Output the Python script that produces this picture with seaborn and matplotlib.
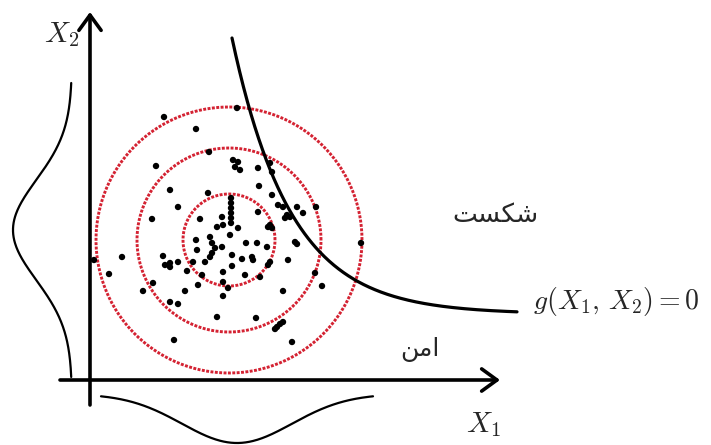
import numpy as np
import pandas as pd
import matplotlib
matplotlib.use("Agg")
import matplotlib.pyplot as plt
import seaborn as sns

# Sample realisations of (X1, X2) in the axis frame (origin at the axes' crossing)
x1_samples = [74, 147, 106, 119, 66, 143, 148, 145, 150, 168, 180, 182, 80, 118, 169, 182,
              88, 188, 193, 207, 213, 226, 62, 110, 141, 141, 141, 141, 141, 141, 132, 133,
              127, 148, 140, 168, 180, 182, 200, 197, 195, 205, 207, 106, 107, 120, 122, 125,
              122, 132, 156, 167, 177, 32, 73, 80, 75, 88, 80, 103, 115, 120, 142, 152,
              162, 163, 142, 180, 198, 4, 19, 97, 112, 133, 155, 170, 63, 108, 133, 138,
              225, 232, 53, 95, 133, 193, 80, 88, 127, 166, 187, 190, 193, 185, 84, 202,
              271, 178, 178]
x2_samples = [263, 272, 251, 228, 214, 220, 218, 213, 210, 212, 217, 208, 190, 187, 194, 185,
              173, 175, 173, 173, 167, 173, 161, 161, 182, 177, 172, 167, 162, 157, 163, 155,
              153, 152, 145, 168, 155, 152, 163, 165, 162, 138, 136, 140, 130, 143, 137, 132,
              127, 133, 137, 137, 133, 123, 124, 117, 115, 118, 113, 118, 118, 123, 125, 121,
              123, 120, 114, 118, 120, 120, 106, 109, 105, 108, 105, 103, 97, 95, 98, 92,
              107, 94, 89, 89, 84, 89, 78, 76, 63, 62, 53, 56, 58, 51, 40, 38,
              137, 115, 153]

# Mean point and radii of the three reliability contours
mean_x1, mean_x2 = 139, 140
contour_radii = [46, 92, 133]

# Limit state g(X1, X2) = 0 : X2 = a + b * exp(-k (X1 - X1_start))
limit_a, limit_b, limit_k = 66, 276, 0.017
limit_x1_range = (142, 427)

# Marginal densities drawn next to the axes
marg2_mean, marg2_sd, marg2_base, marg2_height = 150, 50, -18, 59
marg1_mean, marg1_sd, marg1_base, marg1_height = 147, 55, -14, 49

label_x1 = r"$X_1$"
label_x2 = r"$X_2$"
label_limit = r"$g(X_1,\, X_2) = 0$"
# Persian labels (joined glyph forms, laid out left to right)
label_fail = "\uFE96\uFEB4\uFB91\uFEB7"   # شکست
label_safe = "\uFEE6\uFEE3\uFE8D"         # امن

sns.set_theme(style="white")
plt.rcParams["mathtext.fontset"] = "cm"
plt.rcParams["font.family"] = ["DejaVu Serif", "DejaVu Sans"]

fig = plt.figure(figsize=(7.11, 4.45), dpi=100)
ax = fig.add_axes([0, 0, 1, 1])
ax.set_xlim(-90, 621)
ax.set_ylim(-65, 380)
ax.axis("off")


def curve(df, **kw):
    sns.lineplot(data=df, x="x", y="y", sort=False, estimator=None, ax=ax, **kw)


red = "#d42232"
theta = np.linspace(0, 2 * np.pi, 400)
for r in contour_radii:
    ring = pd.DataFrame({"x": mean_x1 + r * np.cos(theta), "y": mean_x2 + r * np.sin(theta)})
    curve(ring, color=red, lw=2.1, linestyle=(0, (1.0, 0.5)), zorder=2)

pts = pd.DataFrame({"x1": x1_samples, "x2": x2_samples})
sns.scatterplot(data=pts, x="x1", y="x2", ax=ax, color="black", s=21, marker="o",
                edgecolor="none", zorder=4)

u = np.linspace(*limit_x1_range, 300)
limit = pd.DataFrame({"x": u, "y": limit_a + limit_b * np.exp(-limit_k * (u - limit_x1_range[0]))})
curve(limit, color="black", lw=2.3, zorder=5)

v = np.linspace(marg2_mean - 147, marg2_mean + 147, 300)
m2 = pd.DataFrame({"x": marg2_base - marg2_height * np.exp(-(v - marg2_mean) ** 2 / (2 * marg2_sd ** 2)),
                   "y": v})
curve(m2, color="black", lw=1.6)

w = np.linspace(marg1_mean - 136, marg1_mean + 136, 300)
m1 = pd.DataFrame({"x": w,
                   "y": marg1_base - marg1_height * np.exp(-(w - marg1_mean) ** 2 / (2 * marg1_sd ** 2))})
curve(m1, color="black", lw=1.6)

arrow = dict(arrowstyle="->,head_length=0.55,head_width=0.4", color="black", lw=2.6,
             mutation_scale=20, shrinkA=0, shrinkB=0)
ax.annotate("", xy=(0, 368), xytext=(0, -25), arrowprops=arrow, zorder=6)
ax.annotate("", xy=(410, 0), xytext=(-30, 0), arrowprops=arrow, zorder=6)

ax.text(-28, 345, label_x2, fontsize=21, ha="center", va="center")
ax.text(393, -45, label_x1, fontsize=21, ha="center", va="center")
ax.text(443, 78, label_limit, fontsize=20, ha="left", va="center")
ax.text(405, 165, label_fail, fontsize=19, ha="center", va="center", family="DejaVu Sans")
ax.text(330, 30, label_safe, fontsize=18, ha="center", va="center", family="DejaVu Sans")

fig.savefig("out.png", dpi=100)
